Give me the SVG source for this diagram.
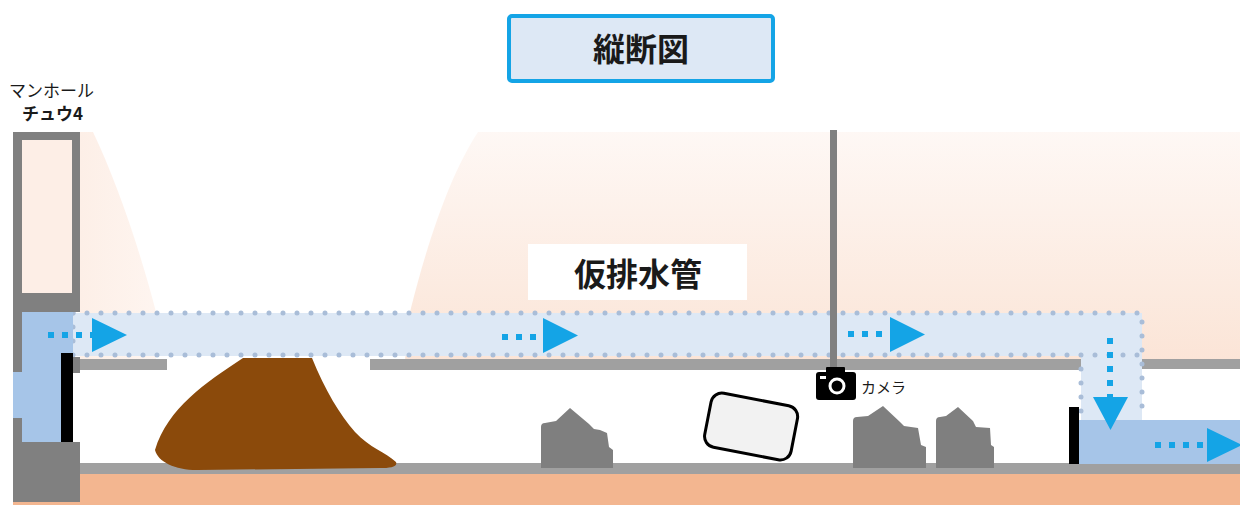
<svg xmlns="http://www.w3.org/2000/svg" width="1240" height="505" viewBox="0 0 1240 505">
  <defs>
    <linearGradient id="soilFade" x1="0" y1="130" x2="0" y2="365" gradientUnits="userSpaceOnUse">
      <stop offset="0" stop-color="#fef8f5"/>
      <stop offset="1" stop-color="#fbe4d6"/>
    </linearGradient>
    <linearGradient id="soilFadeLeft" x1="80" y1="0" x2="160" y2="0" gradientUnits="userSpaceOnUse">
      <stop offset="0" stop-color="#fdefe7"/>
      <stop offset="1" stop-color="#fef5f0"/>
    </linearGradient>
    <style>
      .wall { fill: #808080; }
      .slab { fill: #a0a0a0; }
      .water { fill: #a6c5e8; }
      .pipe { fill: #dde8f5; }
      .pipe-edge { fill: none; stroke: #a9bdd8; stroke-width: 5; stroke-linecap: round; stroke-dasharray: 0 14; }
      .flow-dash { fill: none; stroke: #14a4e6; stroke-width: 6; stroke-dasharray: 6 8; }
      .flow-head { fill: #14a4e6; }
      .rock { fill: #7f7f7f; }
      .jp { font-family: "Noto Sans CJK JP", "Noto Sans", sans-serif; fill: #1a1a1a; }
    </style>
  </defs>

  <!-- ground surrounding the sewer -->
  <g id="ground">
    <path d="M80 132 L93 132 C116 180 140 250 156 312 L156 360 L80 360 Z" fill="url(#soilFadeLeft)"/>
    <path d="M405 360 L410 312 C428 240 450 175 478 132 L1240 132 L1240 360 Z" fill="url(#soilFade)"/>
    <rect x="13" y="473" width="1227" height="32" fill="#f3b690"/>
  </g>

  <!-- sewer slabs -->
  <g id="sewer">
    <rect class="slab" x="80" y="463" width="1160" height="11"/>
    <rect class="slab" x="73" y="359" width="94" height="11"/>
    <rect class="slab" x="370" y="359" width="712" height="11"/>
    <rect class="slab" x="1140" y="359" width="100" height="10"/>
  </g>

  <!-- temporary drainage pipe -->
  <g id="pipe">
    <rect class="pipe" x="73" y="313" width="1069" height="43"/>
    <rect class="pipe" x="1081" y="355" width="61" height="66"/>
    <rect class="water" x="1079" y="420" width="161" height="44"/>
    <path class="pipe-edge" d="M73 313 H1142 V420"/>
    <path class="pipe-edge" d="M73 355 H1142"/>
    <path class="pipe-edge" d="M1081 369 V420"/>
    <path class="pipe-edge" d="M73 313 V355"/>
    <rect x="1069" y="407" width="10" height="57" fill="#000"/>
  </g>

  <!-- manhole chu-u 4 -->
  <g id="manhole">
    <rect class="wall" x="13" y="132" width="67" height="180"/>
    <rect x="22" y="140" width="50" height="153" fill="#fdeee6"/>
    <rect class="water" x="13" y="312" width="60" height="130"/>
    <rect class="wall" x="13" y="312" width="9" height="60"/>
    <rect class="wall" x="13" y="418" width="9" height="24"/>
    <rect class="wall" x="13" y="442" width="67" height="60"/>
    <rect x="61" y="353" width="12" height="89" fill="#000"/>
    <rect class="wall" x="73" y="357" width="7" height="16"/>
    <text class="jp" x="9" y="97" font-size="17">マンホール</text>
    <text class="jp" x="22" y="120" font-size="17" font-weight="bold">チュウ4</text>
  </g>

  <!-- title -->
  <g id="title">
    <rect x="509" y="16" width="264" height="65" rx="3" fill="#dde8f5" stroke="#14a4e6" stroke-width="4"/>
    <text class="jp" x="641" y="61" font-size="32" font-weight="bold" text-anchor="middle">縦断図</text>
  </g>

  <!-- pipe label -->
  <g id="pipe-label">
    <rect x="528" y="244" width="219" height="56" fill="#fff"/>
    <text class="jp" x="638" y="286" font-size="32" font-weight="bold" text-anchor="middle">仮排水管</text>
  </g>

  <!-- sediment pile -->
  <g id="sediment">
    <path d="M155 450 C168 408 205 383 243 358 L312 358 C325 390 340 415 355 432 C370 448 385 452 396 462 C398 467 390 468 380 468 L197 470 C175 470 158 462 155 450 Z" fill="#8b4a0b"/>
  </g>

  <!-- debris -->
  <g id="debris">
    <path class="rock" d="M541 468 V427 Q541 423 545 423 L556 421 L570 408 L589 424 L594 429 L600 430 L607 433 L609 447 L613 450 V468 Z"/>
    <path class="rock" d="M853 468 V421 Q853 417 857 417 L868 416 L883 406 L900 422 L904 426 L918 428 L921 445 L926 447 V468 Z"/>
    <path class="rock" d="M936 468 V421 Q936 417 940 417 L946 416 L958 407 L973 421 L976 427 L990 428 L991 445 L994 447 V468 Z"/>
    <rect x="707" y="399" width="88" height="55" rx="11" transform="rotate(11 751 427)" fill="#f2f2f2" stroke="#000" stroke-width="3"/>
  </g>

  <!-- camera on its pole -->
  <g id="camera">
    <rect class="wall" x="830" y="130" width="7" height="240"/>
    <rect x="826" y="367" width="19" height="8" rx="1" fill="#000"/>
    <rect x="816" y="372" width="40" height="28" rx="3" fill="#000"/>
    <rect x="820" y="376" width="6" height="3" fill="#fff"/>
    <circle cx="837" cy="386" r="7" fill="#000" stroke="#fff" stroke-width="3"/>
    <text class="jp" x="861" y="393" font-size="15">カメラ</text>
  </g>

  <!-- flow arrows -->
  <g id="connectors">
    <path class="flow-dash" d="M48 335 H92"/>
    <path class="flow-head" d="M92 318 L127 335 L92 352 Z"/>
    <path class="flow-dash" d="M502 337 H543"/>
    <path class="flow-head" d="M543 318 L578 335.5 L543 353 Z"/>
    <path class="flow-dash" d="M848 334 H890"/>
    <path class="flow-head" d="M890 317 L925 334.5 L890 352 Z"/>
    <path class="flow-dash" d="M1110 338 V397"/>
    <path class="flow-head" d="M1093 397 L1128 397 L1110.5 430 Z"/>
    <path class="flow-dash" d="M1155 445 H1207"/>
    <path class="flow-head" d="M1207 428 L1242 445 L1207 462 Z"/>
  </g>
</svg>
